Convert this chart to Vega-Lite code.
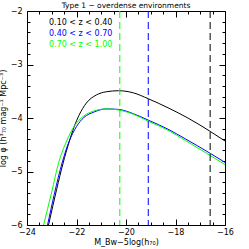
{
  "$schema": "https://vega.github.io/schema/vega-lite/v6.json",
  "width": 198,
  "height": 214,
  "autosize": {"type": "none"},
  "padding": {"left": 27, "top": 11, "right": 24, "bottom": 24},
  "title": {"text": "Type 1 − overdense environments", "fontSize": 7.5, "font": "DejaVu Sans", "fontWeight": "normal", "offset": 1, "dy": 3, "color": "black"},
  "config": {
    "view": {"stroke": "black", "strokeWidth": 1},
    "axis": {"labelFont": "DejaVu Sans", "labelFontSize": 8, "labelColor": "black", "tickColor": "black", "tickWidth": 1, "titleFont": "DejaVu Sans", "titleFontSize": 8, "titleFontWeight": "normal", "titleColor": "black", "grid": false, "domain": false, "labelFlush": false}
  },
  "datasets": {
    "curves": [
      {"M": -23.3, "phi": -6.35, "z": "0.10 < z < 0.40"},
      {"M": -23.13, "phi": -6.0, "z": "0.10 < z < 0.40"},
      {"M": -22.8, "phi": -5.33, "z": "0.10 < z < 0.40"},
      {"M": -22.54, "phi": -4.84, "z": "0.10 < z < 0.40"},
      {"M": -22.3, "phi": -4.45, "z": "0.10 < z < 0.40"},
      {"M": -22.1, "phi": -4.17, "z": "0.10 < z < 0.40"},
      {"M": -21.9, "phi": -3.95, "z": "0.10 < z < 0.40"},
      {"M": -21.6, "phi": -3.72, "z": "0.10 < z < 0.40"},
      {"M": -21.2, "phi": -3.57, "z": "0.10 < z < 0.40"},
      {"M": -20.8, "phi": -3.51, "z": "0.10 < z < 0.40"},
      {"M": -20.3, "phi": -3.49, "z": "0.10 < z < 0.40"},
      {"M": -19.7, "phi": -3.53, "z": "0.10 < z < 0.40"},
      {"M": -19.1, "phi": -3.64, "z": "0.10 < z < 0.40"},
      {"M": -18.3, "phi": -3.81, "z": "0.10 < z < 0.40"},
      {"M": -17.5, "phi": -4.0, "z": "0.10 < z < 0.40"},
      {"M": -16.6, "phi": -4.25, "z": "0.10 < z < 0.40"},
      {"M": -16.0, "phi": -4.43, "z": "0.10 < z < 0.40"},
      {"M": -23.35, "phi": -6.38, "z": "0.40 < z < 0.70"},
      {"M": -23.17, "phi": -6.0, "z": "0.40 < z < 0.70"},
      {"M": -22.9, "phi": -5.43, "z": "0.40 < z < 0.70"},
      {"M": -22.57, "phi": -4.82, "z": "0.40 < z < 0.70"},
      {"M": -22.3, "phi": -4.44, "z": "0.40 < z < 0.70"},
      {"M": -22.0, "phi": -4.16, "z": "0.40 < z < 0.70"},
      {"M": -21.7, "phi": -3.99, "z": "0.40 < z < 0.70"},
      {"M": -21.3, "phi": -3.89, "z": "0.40 < z < 0.70"},
      {"M": -20.8, "phi": -3.83, "z": "0.40 < z < 0.70"},
      {"M": -20.3, "phi": -3.84, "z": "0.40 < z < 0.70"},
      {"M": -19.7, "phi": -3.92, "z": "0.40 < z < 0.70"},
      {"M": -19.1, "phi": -4.04, "z": "0.40 < z < 0.70"},
      {"M": -18.3, "phi": -4.21, "z": "0.40 < z < 0.70"},
      {"M": -17.6, "phi": -4.39, "z": "0.40 < z < 0.70"},
      {"M": -16.6, "phi": -4.66, "z": "0.40 < z < 0.70"},
      {"M": -16.0, "phi": -4.83, "z": "0.40 < z < 0.70"},
      {"M": -23.5, "phi": -6.33, "z": "0.70 < z < 1.00"},
      {"M": -23.33, "phi": -6.0, "z": "0.70 < z < 1.00"},
      {"M": -23.0, "phi": -5.38, "z": "0.70 < z < 1.00"},
      {"M": -22.73, "phi": -4.85, "z": "0.70 < z < 1.00"},
      {"M": -22.4, "phi": -4.43, "z": "0.70 < z < 1.00"},
      {"M": -22.1, "phi": -4.16, "z": "0.70 < z < 1.00"},
      {"M": -21.7, "phi": -3.96, "z": "0.70 < z < 1.00"},
      {"M": -21.3, "phi": -3.87, "z": "0.70 < z < 1.00"},
      {"M": -20.8, "phi": -3.83, "z": "0.70 < z < 1.00"},
      {"M": -20.3, "phi": -3.85, "z": "0.70 < z < 1.00"},
      {"M": -19.7, "phi": -3.93, "z": "0.70 < z < 1.00"},
      {"M": -19.1, "phi": -4.06, "z": "0.70 < z < 1.00"},
      {"M": -18.3, "phi": -4.23, "z": "0.70 < z < 1.00"},
      {"M": -17.6, "phi": -4.42, "z": "0.70 < z < 1.00"},
      {"M": -16.6, "phi": -4.7, "z": "0.70 < z < 1.00"},
      {"M": -16.0, "phi": -4.87, "z": "0.70 < z < 1.00"}
    ],
    "limits": [
      {"M": -16.6, "z": "0.10 < z < 0.40"},
      {"M": -19.1, "z": "0.40 < z < 0.70"},
      {"M": -20.25, "z": "0.70 < z < 1.00"}
    ]
  },
  "layer": [
    {
      "data": {"name": "curves"},
      "mark": {"type": "line", "clip": true, "strokeWidth": 1, "interpolate": "monotone"},
      "encoding": {
        "x": {"field": "M", "type": "quantitative", "scale": {"domain": [-24, -16], "nice": false, "zero": false},
          "axis": {"orient": "bottom", "values": [-24, -22, -20, -18, -16], "tickSize": -6, "labelPadding": 9, "title": "M_Bw−5log(h₇₀)", "titlePadding": 2}},
        "y": {"field": "phi", "type": "quantitative", "scale": {"domain": [-6, -2], "nice": false, "zero": false},
          "axis": {"orient": "left", "values": [-6, -5, -4, -3, -2], "tickSize": -6, "labelPadding": 11, "title": "log φ  (h³₇₀ mag⁻¹ Mpc⁻³)", "titlePadding": 3}},
        "color": {"field": "z", "type": "nominal",
          "scale": {"domain": ["0.10 < z < 0.40", "0.40 < z < 0.70", "0.70 < z < 1.00"], "range": ["black", "#0000ff", "#00ff00"]},
          "legend": {"orient": "top-left", "title": null, "offset": 8, "padding": 0, "symbolSize": 0, "symbolOpacity": 0, "symbolStrokeWidth": 0, "labelOffset": 6, "labelFontSize": 8, "labelFont": "DejaVu Sans", "rowPadding": 3,
            "encode": {"labels": {"update": {"fill": {"scale": "color", "field": "value"}}}}}}
      }
    },
    {
      "data": {"name": "limits"},
      "mark": {"type": "rule", "strokeDash": [7, 4], "strokeWidth": 1},
      "encoding": {
        "x": {"field": "M", "type": "quantitative",
          "axis": {"orient": "top", "values": [-24, -22, -20, -18, -16], "tickSize": -6, "labels": false, "title": null}},
        "color": {"field": "z", "type": "nominal"}
      }
    },
    {
      "data": {"name": "curves"},
      "mark": {"type": "point", "opacity": 0},
      "encoding": {
        "x": {"field": "M", "type": "quantitative",
          "axis": {"orient": "bottom", "values": [-23.5, -23, -22.5, -21.5, -21, -20.5, -19.5, -19, -18.5, -17.5, -17, -16.5], "tickSize": -3, "labels": false, "title": null}},
        "y": {"field": "phi", "type": "quantitative",
          "axis": {"orient": "left", "values": [-5.8, -5.6, -5.4, -5.2, -4.8, -4.6, -4.4, -4.2, -3.8, -3.6, -3.4, -3.2, -2.8, -2.6, -2.4, -2.2], "tickSize": -3, "labels": false, "title": null}}
      }
    },
    {
      "data": {"name": "curves"},
      "mark": {"type": "point", "opacity": 0},
      "encoding": {
        "x": {"field": "M", "type": "quantitative",
          "axis": {"orient": "top", "values": [-23.5, -23, -22.5, -21.5, -21, -20.5, -19.5, -19, -18.5, -17.5, -17, -16.5], "tickSize": -3, "labels": false, "title": null}},
        "y": {"field": "phi", "type": "quantitative",
          "axis": {"orient": "right", "values": [-5.8, -5.6, -5.4, -5.2, -4.8, -4.6, -4.4, -4.2, -3.8, -3.6, -3.4, -3.2, -2.8, -2.6, -2.4, -2.2], "tickSize": -3, "labels": false, "title": null}}
      }
    },
    {
      "data": {"name": "curves"},
      "mark": {"type": "point", "opacity": 0},
      "encoding": {
        "x": {"field": "M", "type": "quantitative", "axis": null},
        "y": {"field": "phi", "type": "quantitative",
          "axis": {"orient": "right", "values": [-6, -5, -4, -3, -2], "tickSize": -6, "labels": false, "title": null}}
      }
    }
  ],
  "resolve": {"axis": {"x": "independent", "y": "independent"}}
}
